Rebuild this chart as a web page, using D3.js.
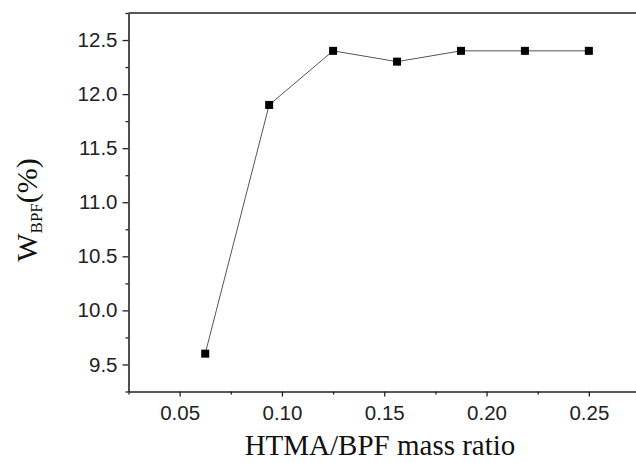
<!DOCTYPE html>
<html>
<head>
<meta charset="utf-8">
<script src="https://cdn.jsdelivr.net/npm/d3@7"></script>
<style>
  body { margin: 0; background: #fff; }
  svg { display: block; }
</style>
</head>
<body>
<script>
// values
var massRatio = [0.0625, 0.09375, 0.125, 0.15625, 0.1875, 0.21875, 0.25];
var wBPF = [9.6, 11.9, 12.4, 12.3, 12.4, 12.4, 12.4];
var xTicks = [0.05, 0.10, 0.15, 0.20, 0.25];
var xMinor = [0.025, 0.075, 0.125, 0.175, 0.225, 0.275];
var yTicks = [9.5, 10.0, 10.5, 11.0, 11.5, 12.0, 12.5];
var yMinor = [9.25, 9.75, 10.25, 10.75, 11.25, 11.75, 12.25, 12.75];

(function () {
  var width = 636, height = 463;
  var mLeft = 128.5, mRight = 640, mTop = 13, mBottom = 391.5;

  var svg = d3.select("body").append("svg")
    .attr("width", width)
    .attr("height", height);

  var x = d3.scaleLinear().domain([0.025, 0.275]).range([mLeft, mRight]);
  var y = d3.scaleLinear().domain([9.25, 12.75]).range([mBottom, mTop]);

  // minor ticks (no labels)
  svg.append("g")
    .attr("transform", "translate(0," + mBottom + ")")
    .call(d3.axisBottom(x).tickValues(xMinor).tickSize(3).tickSizeOuter(0).tickFormat(""))
    .call(function(g) { g.select(".domain").remove(); });
  svg.append("g")
    .attr("transform", "translate(" + mLeft + ",0)")
    .call(d3.axisLeft(y).tickValues(yMinor).tickSize(3).tickSizeOuter(0).tickFormat(""))
    .call(function(g) { g.select(".domain").remove(); });

  svg.append("g")
    .attr("transform", "translate(0," + mBottom + ")")
    .call(d3.axisBottom(x).tickValues(xTicks).tickSize(5).tickSizeOuter(0).tickPadding(9).tickFormat(d3.format(".2f")));
  svg.append("g")
    .attr("transform", "translate(" + mLeft + ",0)")
    .call(d3.axisLeft(y).tickValues(yTicks).tickSize(6).tickSizeOuter(0).tickPadding(5).tickFormat(d3.format(".1f")));

  svg.selectAll(".tick text")
    .attr("font-family", "'Liberation Sans', Arial, sans-serif")
    .attr("font-size", 20.5)
    .attr("fill", "#222");
  svg.selectAll(".tick line").attr("stroke", "#222").attr("stroke-width", 1.3);
  svg.selectAll(".domain").attr("stroke", "#222").attr("stroke-width", 1.6);

  // top and right frame
  svg.append("path")
    .attr("d", "M" + mLeft + "," + mTop + "H" + mRight + "V" + mBottom)
    .attr("fill", "none")
    .attr("stroke", "#222")
    .attr("stroke-width", 1.6);

  var pts = massRatio.map(function(d, i) { return [d, wBPF[i]]; });

  svg.append("path")
    .datum(pts)
    .attr("fill", "none")
    .attr("stroke", "#555")
    .attr("stroke-width", 1)
    .attr("d", d3.line().x(function(d) { return x(d[0]); }).y(function(d) { return y(d[1]); }));

  svg.selectAll("rect.pt")
    .data(pts)
    .enter().append("rect")
    .attr("class", "pt")
    .attr("x", function(d) { return x(d[0]) - 4; })
    .attr("y", function(d) { return y(d[1]) - 4; })
    .attr("width", 8)
    .attr("height", 8)
    .attr("fill", "#000");

  // axis titles
  svg.append("text")
    .attr("x", 380)
    .attr("y", 455)
    .attr("text-anchor", "middle")
    .style("font-family", "'Liberation Serif', 'Times New Roman', serif")
    .style("font-size", "29px")
    .style("fill", "#111")
    .text("HTMA/BPF mass ratio");

  var yt = svg.append("text")
    .attr("transform", "translate(37,210) rotate(-90)")
    .attr("text-anchor", "middle")
    .style("font-family", "'Liberation Serif', 'Times New Roman', serif")
    .style("font-size", "30px")
    .style("fill", "#111");
  yt.append("tspan").text("W");
  yt.append("tspan").attr("dy", 5).style("font-size", "17px").text("BPF");
  yt.append("tspan").attr("dy", -5).text("(%)");
})();
</script>
</body>
</html>
